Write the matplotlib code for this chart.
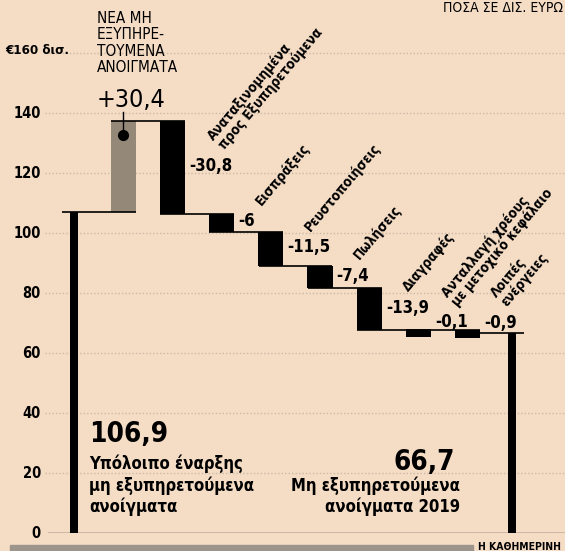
import matplotlib
matplotlib.use('Agg')
from matplotlib import pyplot as plt
from matplotlib import font_manager
import numpy as np

# data (δισ. ευρώ)
start_value = 106.9
end_value = 66.7
steps = [30.4, -30.8, -6.0, -11.5, -7.4, -13.9, -0.1, -0.9]
step_labels = ['', '+30,4', '-30,8', '-6', '-11,5', '-7,4', '-13,9', '-0,1', '-0,9']
categories = ['',
              'Αναταξινομημένα\nπρος Εξυπηρετούμενα',
              'Εισπράξεις',
              'Ρευστοποιήσεις',
              'Πωλήσεις',
              'Διαγραφές',
              'Ανταλλαγή χρέους\nμε μετοχικό κεφάλαιο',
              'Λοιπές\nενέργειες']
yticks = [0, 20, 40, 60, 80, 100, 120, 140]

BG = '#f4dcc5'

# narrow font if there is one
ttf = font_manager.fontManager.ttflist
names = {f.name for f in ttf}
if 'Liberation Sans Narrow' in names:
    plt.rcParams['font.family'] = ['Liberation Sans Narrow', 'DejaVu Sans']
elif any(f.name == 'DejaVu Sans' and 'Condensed' in f.fname for f in ttf):
    plt.rcParams['font.family'] = ['DejaVu Sans']
    plt.rcParams['font.stretch'] = 'condensed'
else:
    plt.rcParams['font.family'] = ['Roboto', 'DejaVu Sans']

fig = plt.figure(figsize=(5.65, 5.51), dpi=100, facecolor=BG)
# axes: x from px 45 to 565, y 0 at px 533, 3 px per unit
ax = fig.add_axes([45 / 565, 18 / 551, 520 / 565, 510 / 551])
ax.set_facecolor(BG)
ax.set_xlim((45 - 74) / 49.2, (565 - 74) / 49.2)
ax.set_ylim(0, 170)
for s in ax.spines.values():
    s.set_visible(False)
ax.set_xticks([])
ax.set_yticks([])

# grid
for g in yticks[1:] + [160]:
    ax.axhline(g, color='#cdb9a5', lw=1.0, ls=(0, (1, 1.5)), zorder=0)
ax.axhline(0, color='#222222', lw=1.0, xmin=0.005, zorder=1)

for t in yticks:
    ax.text(-0.008, t, str(t), transform=ax.get_yaxis_transform(), ha='right', va='center',
            fontsize=10.5, fontweight='bold')
fig.text(5 / 565, 1 - 50 / 551, '€160 δισ.', ha='left', va='center', fontsize=9.5, fontweight='bold')

# waterfall
n = len(steps) + 2
xs = np.arange(n, dtype=float)
xs[-1] -= 0.1
levels = np.concatenate([[start_value], start_value + np.cumsum(steps)])

# start / end thin bars
ax.bar(xs[0], start_value, width=0.17, color='black', zorder=3)
ax.bar(xs[-1], end_value, width=0.17, color='black', zorder=3)

for i, v in enumerate(steps):
    xi = xs[i + 1]
    prev = levels[i]
    top = max(prev, prev + v)
    h = max(abs(v), 2.5)
    color = '#948878' if v > 0 else 'black'
    ax.bar(xi, h, bottom=top - h, width=0.51, color=color, zorder=3)
    if v < 0:
        mid = top - abs(v) / 2
        ly = mid + 0.5 if abs(v) >= 5 else top + 2.5
        ax.text(xi + 0.34, ly, step_labels[i + 1], ha='left', va='center',
                fontsize=12, fontweight='bold', zorder=4)
        # the first (tallest) step's label sits a little further right
        dx = 1.1 if i == 1 else 0.85
        ax.text(xi + dx, ly + 4.5, categories[i], rotation=50, rotation_mode='anchor',
                ha='left', va='bottom', fontsize=9.8, fontweight='bold',
                linespacing=0.95, zorder=4)

# connectors
for i in range(n - 1):
    ax.hlines(levels[i], xs[i] - 0.25, xs[i + 1] + 0.25, color='black', lw=1.2, zorder=4)

# marker on the new NPL bar
new_top = levels[1]
ax.plot([xs[1], xs[1]], [new_top - 4.6, new_top + 3], color='black', lw=1.0, zorder=5)
ax.plot(xs[1], new_top - 4.6, 'o', color='black', ms=7, zorder=5)

fig.text(97 / 565, 1 - 11 / 551, 'ΝΕΑ ΜΗ\nΕΞΥΠΗΡΕ-\nΤΟΥΜΕΝΑ\nΑΝΟΙΓΜΑΤΑ', ha='left', va='top',
         fontsize=11, linespacing=1.12)
fig.text(97 / 565, 1 - 107 / 551, step_labels[1], ha='left', va='baseline', fontsize=18)

# big annotations
ax.text(0.31, 30.5, f'{start_value:.1f}'.replace('.', ','), ha='left', va='baseline',
        fontsize=20, fontweight='bold')
ax.text(0.31, 7, 'Υπόλοιπο έναρξης\nμη εξυπηρετούμενα\nανοίγματα', ha='left', va='baseline',
        fontsize=12, fontweight='bold', linespacing=1.2)
ax.text(7.74, 21, f'{end_value:.1f}'.replace('.', ','), ha='right', va='baseline',
        fontsize=20, fontweight='bold')
ax.text(7.84, 7, 'Μη εξυπηρετούμενα\nανοίγματα 2019', ha='right', va='baseline',
        fontsize=12, fontweight='bold', linespacing=1.2)

# header / footer
fig.text(443 / 565, 1 - 8 / 551, 'ΠΟΣΑ ΣΕ ΔΙΣ. ΕΥΡΩ', ha='left', va='center', fontsize=10)
fig.patches.append(plt.Rectangle((10 / 565, 0), 463 / 565, 6 / 551, transform=fig.transFigure,
                                 color='#9d958c', zorder=1))
fig.text(478 / 565, 4 / 551, 'Η ΚΑΘΗΜΕΡΙΝΗ', ha='left', va='center', fontsize=7.5, fontweight='bold')

fig.savefig('out.png', dpi=100, facecolor=BG)
